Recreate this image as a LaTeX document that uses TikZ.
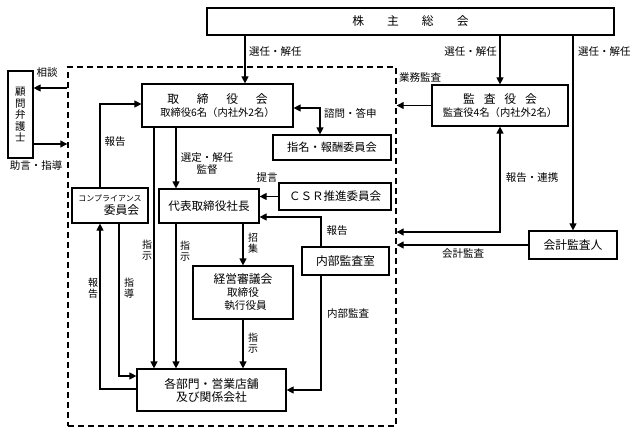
\documentclass[tikz,border=0pt]{standalone}
\usepackage{fontspec}
\setmainfont{Noto Sans CJK JP}
\usetikzlibrary{arrows.meta}
\newcommand\fsz[2]{\fontsize{#1}{#2}\selectfont}
\begin{document}
\begin{tikzpicture}[x=1pt,y=-1pt,
  box/.style={draw, line width=1.2pt, fill=white, align=center, inner sep=0pt, font=\fsz{11.8}{14}},
  arr/.style={line width=1.2pt, -{Triangle[length=7pt,width=7pt]}},
  arrb/.style={line width=1.2pt, {Triangle[length=7pt,width=7pt]}-{Triangle[length=7pt,width=7pt]}},
  lbl/.style={inner sep=0pt, font=\fsz{10.5}{11.5}, align=center},
  vlbl/.style={inner sep=0pt, font=\fsz{10}{11}, align=center},
  frm/.style={draw, line width=1.4pt, dash pattern=on 6pt off 4pt, inner sep=0pt}]
\useasboundingbox (0,0) rectangle (637,433);
% frame
\node[frm, minimum width=328pt, minimum height=359pt] (frame) at (232,246.5) {};
% boxes
\node[box, minimum width=407pt, minimum height=27pt] (soukai) at (410.5,21.5) {株\hspace{1.95em}主\hspace{1.95em}総\hspace{1.95em}会};
\node[box, minimum width=151pt, minimum height=43pt] (board) at (217.5,105.5) {取\hspace{1.5em}締\hspace{1.5em}役\hspace{1.5em}会\\[-1pt]{\fsz{10.3}{12}取締役6名（内社外2名）}};
\node[box, minimum width=136pt, minimum height=41pt] (kansa) at (500,105.5) {監\hspace{0.75em}査\hspace{0.75em}役\hspace{0.75em}会\\[-1pt]{\fsz{10.3}{12}監査役4名（内社外2名）}};
\node[box, minimum width=25pt, minimum height=87pt, font=\fsz{10.5}{11.5}] (komon) at (20.5,114.5) {顧\\問\\弁\\護\\士};
\node[box, minimum width=118pt, minimum height=25pt, font=\fsz{11.2}{13}] (shimei) at (332,147.5) {指名・報酬委員会};
\node[box, minimum width=112pt, minimum height=27pt, font=\fsz{11.5}{13}] (csr) at (335,196.5) {ＣＳＲ推進委員会};
\node[box, minimum width=100pt, minimum height=34pt, font=\fsz{11.6}{13}] (daihyo) at (209,206) {代表取締役社長};
\node[box, minimum width=76pt, minimum height=35pt] (comp) at (110,205.5) {{\fsz{8}{10}コンプライアンス}\\[-1pt]\hspace*{23pt}委員会};
\node[box, minimum width=87pt, minimum height=28pt] (naibu) at (345.5,261) {内部監査室};
\node[box, minimum width=88pt, minimum height=28pt] (kaikei) at (573,245) {会計監査人};
\node[box, minimum width=100pt, minimum height=53pt] (keiei) at (243,292.5) {経営審議会\\[-1pt]{\fsz{10.6}{13}取締役}\\[-1pt]{\fsz{10.6}{13}\hspace*{5pt}執行役員}};
\node[box, minimum width=149pt, minimum height=42pt] (kakubu) at (211.5,390) {各部門・営業店舗\\[-1pt]及び関係会社};
% guides
\coordinate (vA) at (245,0);
\coordinate (vB) at (154,0);
\coordinate (vC) at (176,0);
\coordinate (vD) at (243,0);
\coordinate (vE) at (100,0);
\coordinate (vF) at (119,0);
\coordinate (vG) at (320,0);
\coordinate (vH) at (321,0);
\coordinate (hA) at (0,88);
\coordinate (hB) at (0,144);
\coordinate (hC) at (0,108);
\coordinate (hD) at (0,104);
\coordinate (hE) at (0,217);
\coordinate (hG) at (0,232);
\coordinate (hH) at (0,389);
\coordinate (hI) at (0,376);
% connectors
\draw[arr] (soukai.south -| vA) -- (board.north -| vA);
\draw[arr] (soukai.south -| kansa.north) -- (kansa.north);
\draw[arr] (soukai.south -| kaikei.north) -- (kaikei.north);
\draw[arr] (kansa.west) -- (kansa.west -| frame.east);
\draw[arr] (frame.west |- hA) -- (komon.east |- hA);
\draw[arr] (komon.east |- hB) -- (frame.west |- hB);
\draw[arrb] (board.east |- hC) -| (shimei.north -| vG);
\draw[arr] (comp.north -| vE) |- (board.west |- hD);
\draw[arr] (board.south -| vB) -- (kakubu.north -| vB);
\draw[arr] (board.south -| vC) -- (daihyo.north -| vC);
\draw[arr] (daihyo.south -| vC) -- (kakubu.north -| vC);
\draw[arr] (daihyo.south -| vD) -- (keiei.north -| vD);
\draw[arr] (keiei.south -| vD) -- (kakubu.north -| vD);
\draw[arr] (csr.west) -- (csr.west -| daihyo.east);
\draw[arr] (naibu.north -| vH) |- (daihyo.east |- hE);
\draw[arr] (naibu.south -| vH) |- (kakubu.east);
\draw[arrb] (kansa.south) |- (frame.east |- hG);
\draw[arr] (kaikei.west) -- (kaikei.west -| frame.east);
\draw[arr] (kakubu.west |- hH) -| (comp.south -| vE);
\draw[arr] (comp.south -| vF) |- (kakubu.west |- hI);
% labels
\node[lbl, anchor=west] (l1) at (249,52) {選任・解任};
\node[lbl, anchor=east] (l2) at (497,52) {選任・解任};
\node[lbl, anchor=west] (l3) at (578,52) {選任・解任};
\node[lbl, anchor=west] (l4) at (399,78) {業務監査};
\node[lbl] (l5) at (47,73) {相談};
\node[lbl] (l6) at (36,166) {助言・指導};
\node[lbl, anchor=west] (l7) at (324,113) {諮問・答申};
\node[lbl] (l8) at (115,142) {報告};
\node[lbl] (l9) at (207,163.5) {選定・解任\\監督};
\node[vlbl] (l10) at (147,250) {指\\示};
\node[vlbl] (l11) at (185,251) {指\\示};
\node[vlbl] (l12) at (253,243) {招\\集};
\node[vlbl] (l13) at (253,343) {指\\示};
\node[lbl] (l14) at (267,178) {提言};
\node[lbl] (l15) at (337,231) {報告};
\node[lbl, anchor=west] (l16) at (327,314) {内部監査};
\node[lbl] (l17) at (532,178) {報告・連携};
\node[lbl] (l18) at (463,254) {会計監査};
\node[vlbl] (l19) at (93,288) {報\\告};
\node[vlbl] (l20) at (129,288) {指\\導};
\end{tikzpicture}
\end{document}
